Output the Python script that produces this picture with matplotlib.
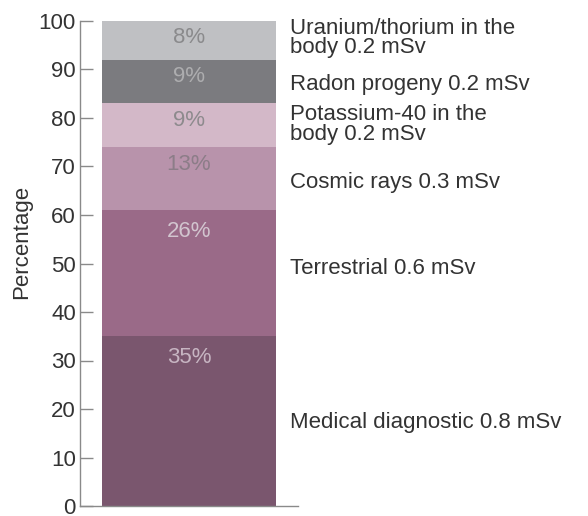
import numpy as np
import matplotlib.pyplot as plt
import matplotlib.transforms as mtransforms

# ------------------------------------------------------------
# Data (bottom to top)
# ------------------------------------------------------------
sources = ["Medical diagnostic 0.8 mSv", "Terrestrial 0.6 mSv", "Cosmic rays 0.3 mSv",
           "Potassium-40 in the\nbody 0.2 mSv", "Radon progeny 0.2 mSv",
           "Uranium/thorium in the\nbody 0.2 mSv"]
shares = [35, 26, 13, 9, 9, 8]
label_y = [17.2, 49, 66.8, 78.7, 86.9, 96.5]

colors = ["#7a566e", "#9a6a88", "#b893ab", "#d3b8c8", "#7b7b7f", "#bfc0c3"]
pct_colors = ["#c7b5c2", "#d2c5cf", "#8c7d88", "#8d8a8d", "#adadaf", "#8a8a8c"]

plt.rcParams.update({
    "font.family": ["Liberation Sans", "DejaVu Sans"],
    "font.size": 16,
})

fig = plt.figure(figsize=(5.88, 5.16), dpi=100)
ax = fig.add_axes([80 / 588, 10 / 516, 218 / 588, 485 / 516])

bottoms = np.concatenate([[0], np.cumsum(shares)[:-1]])
ax.bar(0, shares, bottom=bottoms, width=0.8, color=colors, linewidth=0)

# percent labels near the top of each segment
for b, s, c in zip(bottoms, shares, pct_colors):
    off = -21 if s > 20 else -17
    ax.annotate(f"{s}%", xy=(0, b + s), xytext=(0, off), textcoords="offset pixels",
                ha="center", va="center", color=c, fontsize=16)

# source labels to the right
trans = mtransforms.blended_transform_factory(ax.transAxes, ax.transData)
for name, y in zip(sources, label_y):
    ax.text(0.963, y, name, transform=trans, ha="left", va="center",
            color="#333333", fontsize=16, linespacing=0.9, clip_on=False)

ax.set_xlim(-0.5, 0.5)
ax.set_ylim(0, 100)
ax.set_yticks(np.arange(0, 101, 10))
ax.set_xticks([])
ax.set_ylabel("Percentage", color="#333333")
ax.yaxis.set_label_coords(-0.22, 0.545)

for side in ["top", "right"]:
    ax.spines[side].set_visible(False)
for side in ["left", "bottom"]:
    ax.spines[side].set_color("#8a8a8a")
    ax.spines[side].set_linewidth(1.0)
ax.tick_params(axis="y", direction="in", length=9.5, width=1.0, color="#8a8a8a",
               labelcolor="#333333", pad=3)

fig.savefig("out.png", dpi=100)
plt.close(fig)
